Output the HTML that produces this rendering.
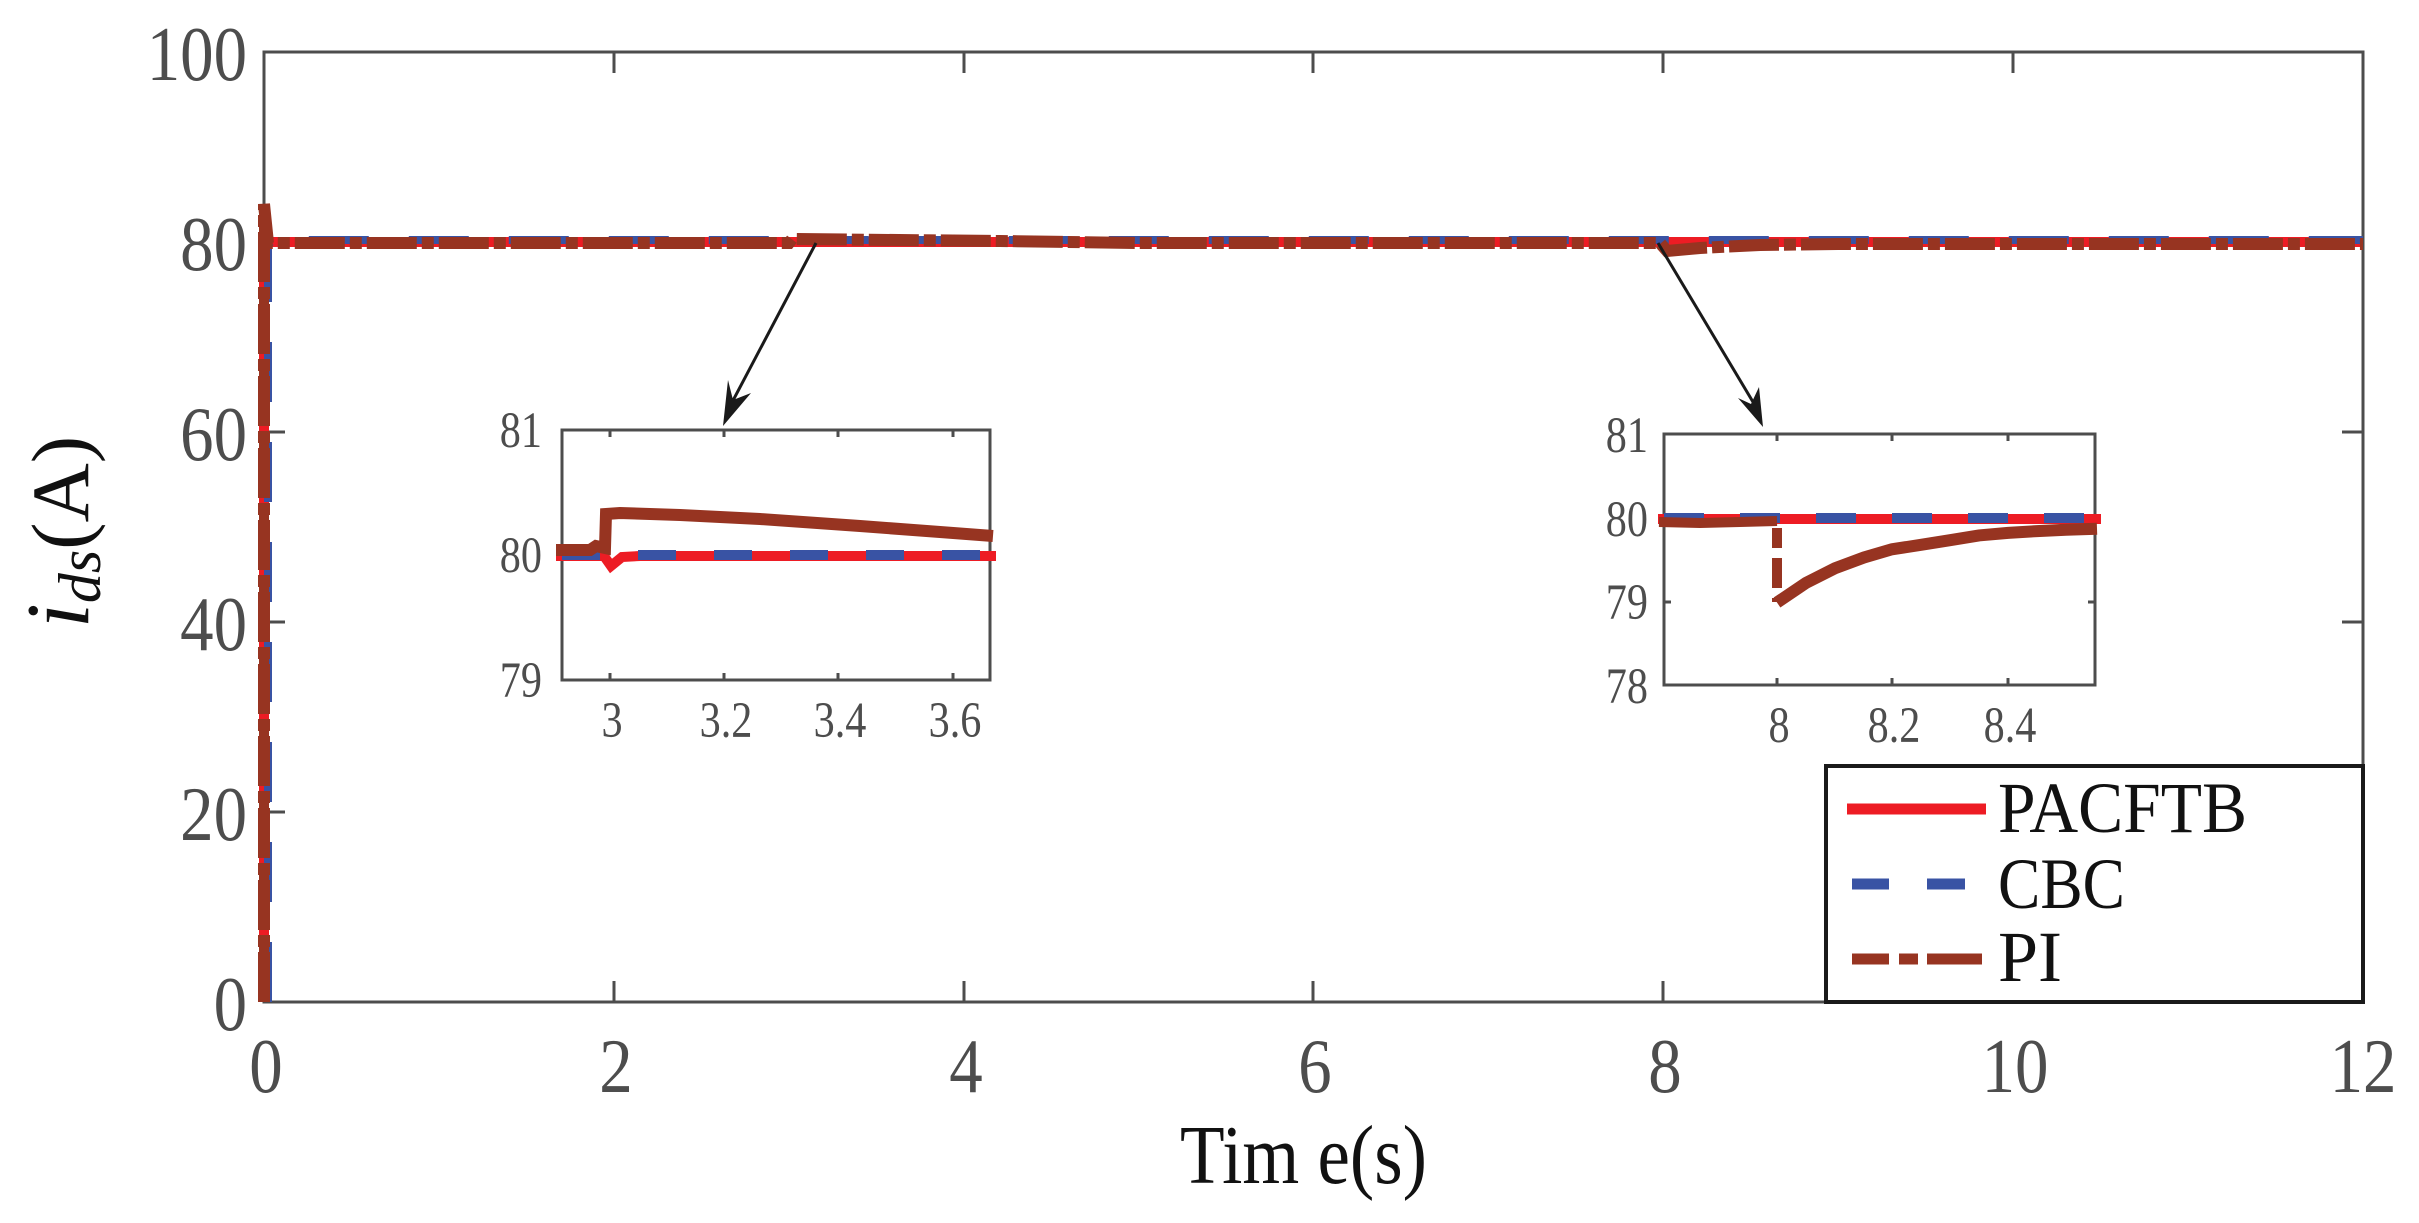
<!DOCTYPE html>
<html><head><meta charset="utf-8"><style>
html,body{margin:0;padding:0;background:#fff;}
svg{display:block;}
text{font-family:"Liberation Serif",serif;}
</style></head><body>
<svg width="2419" height="1223" viewBox="0 0 2419 1223" xmlns="http://www.w3.org/2000/svg">
<rect width="2419" height="1223" fill="#fff"/>
<rect x="264" y="52" width="2099" height="950" fill="none" stroke="#4D4D4D" stroke-width="3"/>
<g stroke="#4D4D4D" stroke-width="3">
<path d="M614,1002v-21M964,1002v-21M1313,1002v-21M1663,1002v-21M2013,1002v-21
M614,52v21M964,52v21M1313,52v21M1663,52v21M2013,52v21"/>
<path d="M264,812h21M264,622h21M264,432h21M264,242h21
M2363,812h-21M2363,622h-21M2363,432h-21M2363,242h-21"/>
</g>
<g fill="#4D4D4D" font-size="76" text-anchor="end">
<text transform="translate(247,80) scale(0.88,1.02)">100</text>
<text transform="translate(247,270) scale(0.88,1.02)">80</text>
<text transform="translate(247,460) scale(0.88,1.02)">60</text>
<text transform="translate(247,650) scale(0.88,1.02)">40</text>
<text transform="translate(247,840) scale(0.88,1.02)">20</text>
<text transform="translate(247,1030) scale(0.88,1.02)">0</text>
</g>
<g fill="#4D4D4D" font-size="76" text-anchor="middle">
<text transform="translate(266,1092) scale(0.88,1.02)">0</text>
<text transform="translate(616,1092) scale(0.88,1.02)">2</text>
<text transform="translate(966,1092) scale(0.88,1.02)">4</text>
<text transform="translate(1315,1092) scale(0.88,1.02)">6</text>
<text transform="translate(1665,1092) scale(0.88,1.02)">8</text>
<text transform="translate(2015,1092) scale(0.88,1.02)">10</text>
<text transform="translate(2363,1092) scale(0.88,1.02)">12</text>
</g>
<text x="1180" y="1183" font-size="84" fill="#111" textLength="247" lengthAdjust="spacingAndGlyphs">Tim e(s)</text>
<text transform="translate(88,532) rotate(-90)" font-size="82" text-anchor="middle" fill="#111"><tspan font-style="italic" font-size="90">i</tspan><tspan font-style="italic" font-size="60" dy="12">ds</tspan><tspan dy="-12">(A)</tspan></text>

<path d="M264,1002V242H2363" fill="none" stroke="#ED1C24" stroke-width="10"/>
<path d="M268,1002V246L272,240H2363" fill="none" stroke="#3953A4" stroke-width="8" stroke-dasharray="60,40"/>
<path d="M264,1002V204L268,243H789L792,239L1000,241L1139,243H1660L1667,251L1700,248L1760,245L1838,244H2363" fill="none" stroke="#973421" stroke-width="12" stroke-dasharray="50,5,12,5"/>
<path d="M264,1002V204" stroke="#973421" stroke-width="10" stroke-dasharray="60,12"/>

<g stroke="#1a1a1a" stroke-width="3" fill="#1a1a1a">
<line x1="816" y1="243" x2="728" y2="410"/>
<path d="M723,426L728,380L733,400L751,393Z" stroke="none"/>
<line x1="1658" y1="243" x2="1759" y2="412"/>
<path d="M1763,427L1738,398L1751,404L1759,387Z" stroke="none"/>
</g>

<rect x="562" y="430" width="428" height="250" fill="#fff" stroke="#4D4D4D" stroke-width="3"/>
<g stroke="#4D4D4D" stroke-width="3">
<path d="M610,430v7M724,430v7M838,430v7M953,430v7M610,680v-7M724,680v-7M838,680v-7M953,680v-7M562,555h7M990,555h-7"/>
</g>
<path d="M556,556H604L611,566L622,557L640,556H996" fill="none" stroke="#ED1C24" stroke-width="10"/>
<path d="M562,555H996" fill="none" stroke="#3953A4" stroke-width="10" stroke-dasharray="38,38"/>
<path d="M556,550H590L596,546L605,548L606,514L620,513L680,515L760,519L860,526L940,532L993,536" fill="none" stroke="#973421" stroke-width="12"/>
<g fill="#4D4D4D" font-size="48">
<text transform="translate(542,447) scale(0.88,1.05)" text-anchor="end">81</text>
<text transform="translate(542,572) scale(0.88,1.05)" text-anchor="end">80</text>
<text transform="translate(542,697) scale(0.88,1.05)" text-anchor="end">79</text>
<g text-anchor="middle">
<text transform="translate(612,737) scale(0.88,1.05)">3</text><text transform="translate(726,737) scale(0.88,1.05)">3.2</text><text transform="translate(840,737) scale(0.88,1.05)">3.4</text><text transform="translate(955,737) scale(0.88,1.05)">3.6</text>
</g>
</g>

<rect x="1664" y="434" width="431" height="251" fill="#fff" stroke="#4D4D4D" stroke-width="3"/>
<g stroke="#4D4D4D" stroke-width="3">
<path d="M1777,434v7M1892,434v7M2008,434v7M1777,685v-7M1892,685v-7M2008,685v-7M1664,602h7M2095,602h-7M1664,519h7M2095,519h-7"/>
</g>
<path d="M1658,519H2101" fill="none" stroke="#ED1C24" stroke-width="10"/>
<path d="M1664,518H2095" fill="none" stroke="#3953A4" stroke-width="10" stroke-dasharray="40,36"/>
<path d="M1659,522L1700,523L1740,522L1777,521" fill="none" stroke="#973421" stroke-width="10"/>
<path d="M1777,528V602" fill="none" stroke="#973421" stroke-width="10" stroke-dasharray="20,10,30,10"/>
<path d="M1777,602.5L1806,582.9L1835,568.3L1864,557.5L1892,549.3L1921,544.8L1950,540.2L1979,535.4L2008,532.9L2037,531.1L2066,529.8L2097,528.7" fill="none" stroke="#973421" stroke-width="12"/>
<g fill="#4D4D4D" font-size="48">
<text transform="translate(1648,452) scale(0.88,1.05)" text-anchor="end">81</text>
<text transform="translate(1648,536) scale(0.88,1.05)" text-anchor="end">80</text>
<text transform="translate(1648,619) scale(0.88,1.05)" text-anchor="end">79</text>
<text transform="translate(1648,703) scale(0.88,1.05)" text-anchor="end">78</text>
<g text-anchor="middle">
<text transform="translate(1779,742) scale(0.88,1.05)">8</text><text transform="translate(1894,742) scale(0.88,1.05)">8.2</text><text transform="translate(2010,742) scale(0.88,1.05)">8.4</text>
</g>
</g>

<rect x="1826" y="766" width="537" height="236" fill="#fff" stroke="#1a1a1a" stroke-width="4"/>
<path d="M1847,809H1986" stroke="#ED1C24" stroke-width="11"/>
<path d="M1852,884H1889M1927,884H1965" stroke="#3953A4" stroke-width="11"/>
<path d="M1852,959H1889M1899,959H1918M1927,959H1982" stroke="#973421" stroke-width="11"/>
<g fill="#111" font-size="72">
<text x="1998" y="832" textLength="249" lengthAdjust="spacingAndGlyphs">PACFTB</text>
<text x="1998" y="908" textLength="127" lengthAdjust="spacingAndGlyphs">CBC</text>
<text x="1998" y="981">PI</text>
</g>
</svg>
</body></html>
